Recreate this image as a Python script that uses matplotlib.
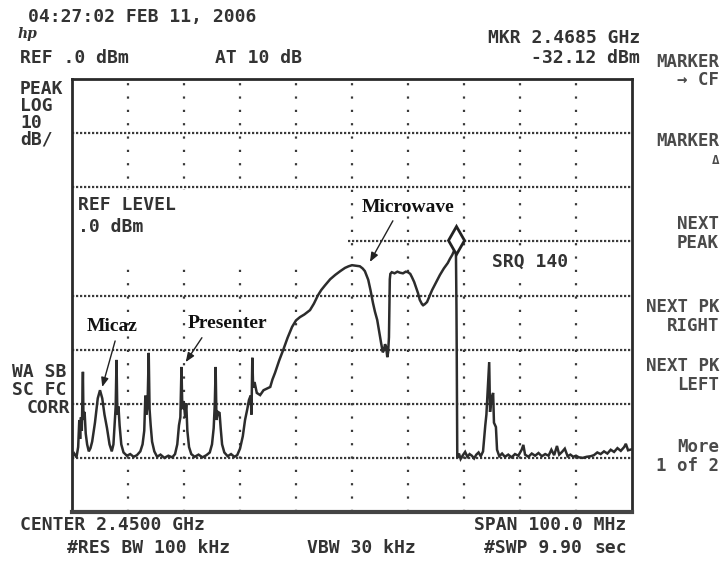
import matplotlib
matplotlib.use("Agg")
import matplotlib.pyplot as plt
from matplotlib.patches import Rectangle

# ---------------- data ----------------
start_mhz = 2400.0
span_mhz = 100.0
ref_dbm = 0.0
db_per_div = 10

# trace: frequency offset from start (MHz) and level (dBm)
trace_mhz = [
    0.0, 0.4, 0.8, 1.1, 1.3, 1.45, 1.6, 1.75, 1.95, 2.05, 2.25, 2.45, 2.7, 3.0,
    3.3, 3.6, 4.1, 4.6, 5.0, 5.4, 5.8, 6.25, 6.7, 7.1, 7.4, 7.65, 7.8, 7.95,
    8.1, 8.3, 8.5, 8.8, 9.2, 9.8, 10.4, 11.0, 11.6, 12.2, 12.6, 12.9, 13.1,
    13.3, 13.5, 13.7, 13.85, 14.05, 14.3, 14.7, 15.2, 15.8, 16.5, 17.2, 17.9,
    18.4, 18.8, 19.1, 19.35, 19.55, 19.7, 19.95, 20.2, 20.4, 20.6, 20.9, 21.3,
    21.9, 22.6, 23.3, 24.0, 24.6, 25.0, 25.3, 25.5, 25.65, 25.8, 26.05, 26.35,
    26.55, 26.8, 27.2, 27.8, 28.4, 29.0, 29.5,
    30.0, 30.5, 30.9, 31.3, 31.6, 31.9, 32.05, 32.2, 32.35, 32.6, 33.0, 33.6,
    34.2, 34.8, 35.4, 35.8, 36.25, 37.0, 37.7, 38.5, 39.3, 40.0, 40.7, 41.5,
    42.5, 43.2, 43.9, 44.5, 45.2, 46.1, 47.0, 47.9, 48.75, 49.4, 50.0, 50.7,
    51.4, 51.9, 52.3, 52.9, 53.3, 53.75, 54.1, 54.5, 54.9, 55.2, 55.5, 55.7,
    55.9, 56.1, 56.3, 56.45, 56.6, 56.75, 56.85, 57.1, 57.6, 58.1, 58.6, 59.1,
    59.6, 60.0, 60.4, 60.7, 61.1, 61.4, 61.8, 62.1, 62.5, 62.7, 63.0, 63.4,
    63.8, 64.3, 65.0, 65.7, 66.4, 67.1, 67.5, 67.9, 68.2, 68.4, 68.55, 68.65,
    68.7, 68.75, 68.8, 69.1, 69.4, 69.8, 70.2, 70.6, 71.0, 71.4, 71.8, 72.2,
    72.6, 73.0, 73.4, 73.8, 74.0, 74.2, 74.5, 74.65, 74.9, 75.2, 75.35, 75.7,
    75.9, 76.3, 76.8, 77.3, 77.9, 78.5, 79.1, 79.7, 80.3, 80.6, 80.9, 81.5,
    82.1, 82.7, 83.3, 83.9, 84.5, 85.1, 85.6, 86.1, 86.6, 87.0, 87.5, 88.0,
    88.5, 89.0, 89.5, 90.0, 90.5, 91.2, 91.9, 92.6, 93.2, 93.8, 94.4, 95.0,
    95.6, 96.2, 96.8, 97.4, 98.0, 98.6, 98.9, 99.3, 100.0,
]
trace_dbm = [
    -69.8, -69.2, -69.9, -68.0, -63.0, -66.5, -62.5, -65.0, -54.1, -63.0, -61.5, -65.5, -67.5, -68.8,
    -68.2, -67.0, -63.5, -59.0, -57.5, -59.0, -62.0, -64.5, -67.5, -68.8, -67.5, -63.0, -60.5, -51.9,
    -62.0, -60.5, -64.0, -67.5, -69.0, -69.6, -69.3, -69.8, -69.5, -68.8, -67.5, -65.0, -58.5,
    -62.0, -60.0, -50.6, -61.0, -64.0, -67.0, -68.8, -69.8, -69.4, -70.0, -69.6, -69.9,
    -69.3, -67.5, -64.0, -62.5, -53.2, -61.0, -59.5, -62.5, -59.9, -65.0, -68.0, -69.3,
    -69.8, -69.4, -69.9, -69.5, -69.0, -67.5, -64.5, -60.0, -53.2, -63.0, -61.5, -61.7,
    -64.5, -67.5, -69.0, -69.7, -69.3, -69.8, -69.5,
    -68.3, -66.0, -63.0, -61.0, -59.3, -58.5, -62.0, -51.5, -57.0, -56.0, -58.0, -58.4,
    -57.5, -57.2, -56.9, -55.5, -54.3, -52.0, -50.1, -47.8, -45.8, -44.6, -44.0, -43.5,
    -42.7, -41.5, -40.0, -39.0, -38.1, -37.0, -36.2, -35.5, -34.9, -34.6, -34.4, -34.5,
    -34.6, -35.0, -35.5, -37.1, -39.0, -41.4, -43.0, -44.5, -47.0, -48.8, -50.5, -50.1,
    -49.0, -49.5, -51.4, -50.5, -47.7, -37.0, -36.0, -35.7, -35.9, -35.6, -35.8, -35.9,
    -35.6, -35.7, -36.0, -36.6, -37.5, -38.4, -39.6, -40.8, -41.6, -41.8, -41.6, -41.2,
    -40.2, -39.0, -37.6, -36.2, -35.0, -34.0, -33.2, -32.5, -31.8, -31.2, -30.8, -41.8,
    -50.0, -62.0, -70.0, -69.2, -70.2, -69.5, -68.9, -69.8, -69.3, -69.6, -70.1, -69.4,
    -69.0, -69.7, -68.8, -64.0, -62.0, -58.0, -52.3, -61.5, -59.0, -58.0, -63.5, -64.3,
    -68.5, -69.7, -69.2, -69.8, -69.4, -69.9, -69.3, -69.6, -68.5, -67.6, -69.4, -69.8,
    -69.2, -69.6, -69.1, -69.7, -69.3, -69.6, -68.5, -69.5, -67.8, -69.4, -68.9, -68.3,
    -69.7, -69.4, -69.8, -69.6, -69.9, -70.0, -69.8, -69.7, -69.5, -69.0, -69.3, -68.8,
    -69.2, -68.5, -68.9, -68.2, -68.7, -68.0, -67.4, -68.6, -68.4,
]

marker_mhz = 68.55
marker_dbm = -29.8

# annotations: label, label centre (mhz, dbm), arrow tail, arrow tip
ann_labels = ["Micaz", "Presenter", "Microwave"]
ann_text_pos = [(7.2, -45.8), (27.7, -45.1), (60.0, -23.65)]
ann_tail_pos = [(7.7, -48.4), (23.2, -47.8), (57.3, -26.2)]
ann_tip_pos = [(5.4, -56.9), (20.3, -52.3), (53.2, -33.8)]

# ---------------- figure ----------------
W, H = 725, 562
fig = plt.figure(figsize=(W / 100, H / 100), dpi=100)
fig.patch.set_facecolor("white")

L, R, T, B = 72, 632, 79, 512
ax = fig.add_axes([L / W, 1 - B / H, (R - L) / W, (B - T) / H])
ax.set_xlim(0, span_mhz)
ax.set_ylim(ref_dbm - 8 * db_per_div, ref_dbm)
ax.set_xticks([])
ax.set_yticks([])
for name, sp in ax.spines.items():
    sp.set_color("#2a2a2a")
    sp.set_linewidth(2.0)
ax.spines["bottom"].set_linewidth(3.0)
ax.spines["bottom"].set_color("#444444")

grid_c = "#3a3a3a"
for k in range(1, 8):
    ax.axhline(ref_dbm - k * db_per_div, color=grid_c, lw=1.6,
               linestyle=(0, (1, 0.8)), zorder=1)
for k in range(1, 10):
    ax.axvline(k * span_mhz / 10, color=grid_c, lw=1.6,
               linestyle=(0, (1, 5)), zorder=1)

# blanked active-function area
ax.add_patch(Rectangle((0.25, -34.4), 49.1, 13.8, facecolor="white",
                       edgecolor="none", zorder=1.5))

ax.plot(trace_mhz, trace_dbm, color="#2c2c2c", lw=1.8, zorder=3,
        solid_joinstyle="miter")
ax.plot([marker_mhz], [marker_dbm], marker="d", ms=14, mfc="white",
        mec="#222222", mew=2, zorder=4)

mono = "DejaVu Sans Mono"
ax.text((78 - L) / 5.6, -(205 - T) / 5.4125, "REF LEVEL", family=mono,
        weight="bold", fontsize=13, color="#333333", va="center", ha="left", zorder=5)
ax.text((78 - L) / 5.6, -(227 - T) / 5.4125, ".0 dBm", family=mono,
        weight="bold", fontsize=13, color="#333333", va="center", ha="left", zorder=5)
ax.text((492 - L) / 5.6, -(262 - T) / 5.4125, "SRQ 140", family=mono,
        weight="bold", fontsize=13, color="#333333", va="center", ha="left", zorder=5,
        bbox=dict(facecolor="white", edgecolor="none", pad=1))

for lab, tp, tail, tip in zip(ann_labels, ann_text_pos, ann_tail_pos, ann_tip_pos):
    ax.text(tp[0], tp[1], lab, family="Liberation Serif", weight="bold",
            fontsize=14, color="#111111", ha="center", va="center", zorder=6)
    ax.annotate("", xy=tip, xytext=tail, zorder=6,
                arrowprops=dict(arrowstyle="-|>,head_length=0.55,head_width=0.22",
                                color="#222222", lw=1.0, shrinkA=0, shrinkB=0))

# ---------------- screen texts ----------------
def ftext(x, y, s, ha="left", size=13, color="#333333", weight="bold", **kw):
    fig.text(x / W, 1 - y / H, s, ha=ha, va="center", family=mono,
             fontsize=size, color=color, weight=weight, **kw)

ftext(28, 17, "04:27:02 FEB 11, 2006")
fig.text(18 / W, 1 - 34 / H, "hp", ha="left", va="center", family="DejaVu Serif",
         style="italic", weight="bold", fontsize=10, color="#333333")
ftext(20, 58, "REF .0 dBm")
ftext(215, 58, "AT 10 dB")
ftext(640, 38, "MKR 2.4685 GHz", ha="right")
ftext(640, 58, "-32.12 dBm", ha="right")

for yy, s in zip([89, 106, 123, 140], ["PEAK", "LOG", "10", "dB/"]):
    ftext(20, yy, s)
for yy, s in zip([372, 390], ["WA SB", "SC FC"]):
    ftext(12, yy, s)
ftext(70, 408, "CORR", ha="right")

soft = [(62, "MARKER"), (80, "→ CF"), (141, "MARKER"), (160, "Δ"),
        (224, "NEXT"), (243, "PEAK"), (307, "NEXT PK"), (326, "RIGHT"),
        (366, "NEXT PK"), (385, "LEFT"), (447, "More"), (466, "1 of 2")]
for yy, s in soft:
    ftext(719, yy, s, ha="right", size=12.5 if s != "Δ" else 9, color="#4a4a4a")

ftext(20, 525, "CENTER 2.4500 GHz")
ftext(67, 548, "#RES BW 100 kHz")
ftext(307, 548, "VBW 30 kHz")
ftext(626, 525, "SPAN 100.0 MHz", ha="right")
ftext(582, 548, "#SWP 9.90", ha="right")
ftext(627, 548, "sec", ha="right")

fig.savefig("out.png", dpi=100, facecolor="white")
